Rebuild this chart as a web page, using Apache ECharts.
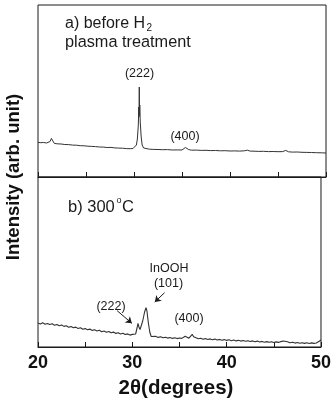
<!DOCTYPE html>
<html>
<head>
<meta charset="utf-8">
<script src="https://cdn.jsdelivr.net/npm/echarts@6/dist/echarts.min.js"></script>
<style>
  html, body { margin: 0; padding: 0; background: #fff; }
  #box { width: 334px; height: 401px; }
</style>
</head>
<body>
<div id="box"></div>
<script>
// 2θ tick labels
const xTicks = [20, 30, 40, 50]

// a) before H2 plasma treatment  [2θ, intensity]
const beforeData = [
  [20.0, 34.6], [20.3, 34.3], [20.6, 34.5], [20.9, 34.0], [21.1, 34.2], [21.25, 35.5], [21.4, 38.6],
  [21.55, 36.0], [21.7, 33.6], [22.0, 33.2], [22.4, 33.0], [22.8, 32.5], [23.2, 32.4], [23.6, 31.9],
  [24.0, 31.8], [24.4, 31.3], [24.8, 31.2], [25.2, 30.8], [25.6, 30.6], [26.0, 30.4], [26.4, 30.0],
  [26.8, 29.9], [27.2, 29.5], [27.6, 29.6], [28.0, 29.1], [28.4, 28.9], [28.8, 28.8], [29.2, 28.4],
  [29.6, 28.3], [29.9, 28.5], [30.1, 29.5], [30.25, 32], [30.35, 38], [30.45, 52], [30.5, 70],
  [30.52, 60], [30.55, 90], [30.58, 62], [30.6, 72], [30.65, 55], [30.75, 40], [30.85, 32],
  [31.0, 29], [31.2, 28], [31.6, 27.8], [32.0, 27.6], [32.5, 27.5], [33.0, 27.3], [33.5, 27.4],
  [34.0, 27.0], [34.5, 27.1], [35.0, 27.0], [35.2, 27.6], [35.35, 29.5], [35.45, 31.5], [35.55, 29.5],
  [35.7, 27.4], [36.0, 26.8], [36.5, 26.9], [37.0, 26.6], [37.5, 26.7], [38.0, 26.4], [38.5, 26.5],
  [39.0, 26.2], [39.5, 26.3], [40.0, 26.0], [40.5, 26.1], [41.0, 25.9], [41.5, 26.2], [41.8, 26.8],
  [42.1, 25.9], [42.5, 25.8], [43.0, 25.6], [43.5, 25.7], [44.0, 25.4], [44.5, 25.5], [45.0, 25.3],
  [45.5, 25.4], [45.8, 26.6], [46.1, 25.2], [46.5, 24.9], [47.0, 25.0], [47.5, 24.7], [48.0, 24.6],
  [48.5, 24.5], [49.0, 24.3], [49.5, 24.2], [50.0, 24.0]
]

// b) 300°C  [2θ, intensity]
const after300Data = [
  [20.0, 24.0], [20.25, 23.0], [20.5, 24.2], [20.75, 22.8], [21.0, 23.5], [21.25, 22.4], [21.5, 23.2],
  [21.75, 21.8], [22.0, 22.6], [22.25, 21.3], [22.5, 22.0], [22.75, 20.6], [23.0, 21.2], [23.25, 19.8],
  [23.5, 20.4], [23.75, 19.2], [24.0, 19.9], [24.25, 18.5], [24.5, 19.2], [24.75, 17.8], [25.0, 18.4],
  [25.25, 17.2], [25.5, 17.9], [25.75, 16.6], [26.0, 17.2], [26.25, 16.0], [26.5, 16.7], [26.75, 15.3],
  [27.0, 16.0], [27.25, 14.8], [27.5, 15.5], [27.75, 14.2], [28.0, 14.9], [28.25, 13.6], [28.5, 14.2],
  [28.75, 13.0], [29.0, 13.8], [29.25, 12.5], [29.5, 13.1], [29.75, 11.9], [30.0, 12.6], [30.2, 11.2],
  [30.35, 13], [30.5, 19], [30.6, 23.7], [30.7, 20], [30.82, 17.5], [30.95, 19], [31.1, 26], [31.3, 35],
  [31.45, 39.3], [31.55, 36], [31.7, 24], [31.85, 15], [32.0, 10.5], [32.2, 10.0], [32.5, 10.6],
  [32.75, 9.6], [33.0, 10.2], [33.25, 9.2], [33.5, 9.8], [33.75, 8.9], [34.0, 9.5], [34.25, 8.6],
  [34.5, 9.2], [34.75, 8.4], [35.0, 9.0], [35.25, 8.6], [35.45, 10.0], [35.6, 10.8], [35.8, 9.0],
  [36.0, 8.8], [36.2, 10.5], [36.35, 12.7], [36.5, 10.2], [36.7, 8.6], [37.0, 8.2], [37.25, 8.8],
  [37.5, 7.8], [37.75, 8.4], [38.0, 7.5], [38.25, 8.1], [38.5, 7.2], [38.75, 7.9], [39.0, 7.0],
  [39.25, 7.6], [39.5, 6.8], [39.75, 7.4], [40.0, 6.6], [40.25, 7.2], [40.5, 6.3], [40.75, 7.0],
  [41.0, 6.1], [41.25, 6.8], [41.5, 5.9], [41.75, 6.5], [42.0, 5.7], [42.25, 6.3], [42.5, 5.5],
  [42.75, 6.1], [43.0, 5.3], [43.25, 5.9], [43.5, 5.0], [43.75, 5.6], [44.0, 4.8], [44.25, 5.4],
  [44.5, 4.7], [44.75, 5.2], [45.0, 4.5], [45.25, 5.1], [45.5, 4.6], [45.75, 5.4], [46.0, 6.0],
  [46.2, 6.4], [46.45, 5.2], [46.7, 4.2], [47.0, 4.8], [47.25, 3.9], [47.5, 4.5], [47.75, 3.7],
  [48.0, 4.3], [48.25, 3.6], [48.5, 4.2], [48.75, 3.5], [49.0, 4.1], [49.25, 3.6], [49.5, 4.0],
  [49.7, 4.6], [49.85, 6.0], [50.0, 7.2]
]

// arrows in panel b: [from, to] in data coords
const arrows = [
  [[28.39, 36.3], [29.95, 23.7]],
  [[33.42, 54.3], [32.38, 45.0]]
]

const ink = '#1a1a1a'

const chart = echarts.init(document.getElementById('box'))

function xAxisFor(gridIndex, showLabels) {
  return {
    type: 'value', gridIndex, min: xTicks[0], max: xTicks[xTicks.length - 1], interval: 10,
    axisLine: { show: true, lineStyle: { color: ink, width: 1 } },
    axisTick: { show: true, inside: true, length: 5, lineStyle: { color: ink } },
    minorTick: { show: true, splitNumber: 2, length: 5, lineStyle: { color: ink } },
    splitLine: { show: false },
    axisLabel: {
      show: showLabels, margin: 7, color: '#111',
      fontFamily: 'Liberation Sans', fontWeight: 'bold', fontSize: 18
    }
  }
}

function yAxisFor(gridIndex, max) {
  return { type: 'value', gridIndex, min: 0, max, show: false }
}

function txt(text, x, y, size, opts) {
  return {
    type: 'text', x, y, silent: true,
    style: Object.assign({
      text, fill: ink, fontFamily: 'Liberation Sans', fontSize: size,
      textAlign: 'left', textVerticalAlign: 'middle'
    }, opts || {})
  }
}

chart.setOption({
  animation: false,
  backgroundColor: '#fff',
  grid: [
    { left: 38, right: 8, top: 5, height: 172, show: true, borderColor: ink, borderWidth: 1 },
    { left: 38, right: 8, top: 177, height: 170, show: true, borderColor: ink, borderWidth: 1 }
  ],
  xAxis: [xAxisFor(0, false), xAxisFor(1, true)],
  yAxis: [yAxisFor(0, 172), yAxisFor(1, 170)],
  series: [
    {
      type: 'line', xAxisIndex: 0, yAxisIndex: 0, data: beforeData,
      showSymbol: false, lineStyle: { color: '#333', width: 1 }
    },
    {
      type: 'line', xAxisIndex: 1, yAxisIndex: 1, data: after300Data,
      showSymbol: false, lineStyle: { color: '#333', width: 1.1 },
      markLine: {
        silent: true, symbol: ['none', 'arrow'], symbolSize: 6,
        label: { show: false },
        lineStyle: { color: ink, width: 1, type: 'solid' },
        data: arrows.map(a => [{ coord: a[0] }, { coord: a[1] }])
      }
    }
  ],
  graphic: [
    {
      type: 'text', x: 14, y: 177, rotation: Math.PI / 2, silent: true,
      style: {
        text: 'Intensity (arb. unit)', fill: '#111', fontFamily: 'Liberation Sans',
        fontWeight: 'bold', fontSize: 18.5, textAlign: 'center', textVerticalAlign: 'middle'
      }
    },
    txt('2θ(degrees)', 176, 388, 20.5, { textAlign: 'center', fontWeight: 'bold', fill: '#111' }),
    txt('a) before H', 65, 24, 16),
    txt('2', 146.5, 28, 10),
    txt('plasma treatment', 65, 43, 16.3),
    txt('(222)', 139.5, 74, 12.5, { textAlign: 'center' }),
    txt('(400)', 185, 136.5, 12.5, { textAlign: 'center' }),
    txt('b) 300', 68, 207, 16.5),
    txt('o', 116.5, 201, 9),
    txt('C', 122, 207, 16.5),
    txt('InOOH', 169, 269, 12.5, { textAlign: 'center' }),
    txt('(101)', 168.5, 283.5, 12.5, { textAlign: 'center' }),
    txt('(222)', 111, 306.5, 12.5, { textAlign: 'center' }),
    txt('(400)', 189, 318.5, 12.5, { textAlign: 'center' })
  ]
})
</script>
</body>
</html>
